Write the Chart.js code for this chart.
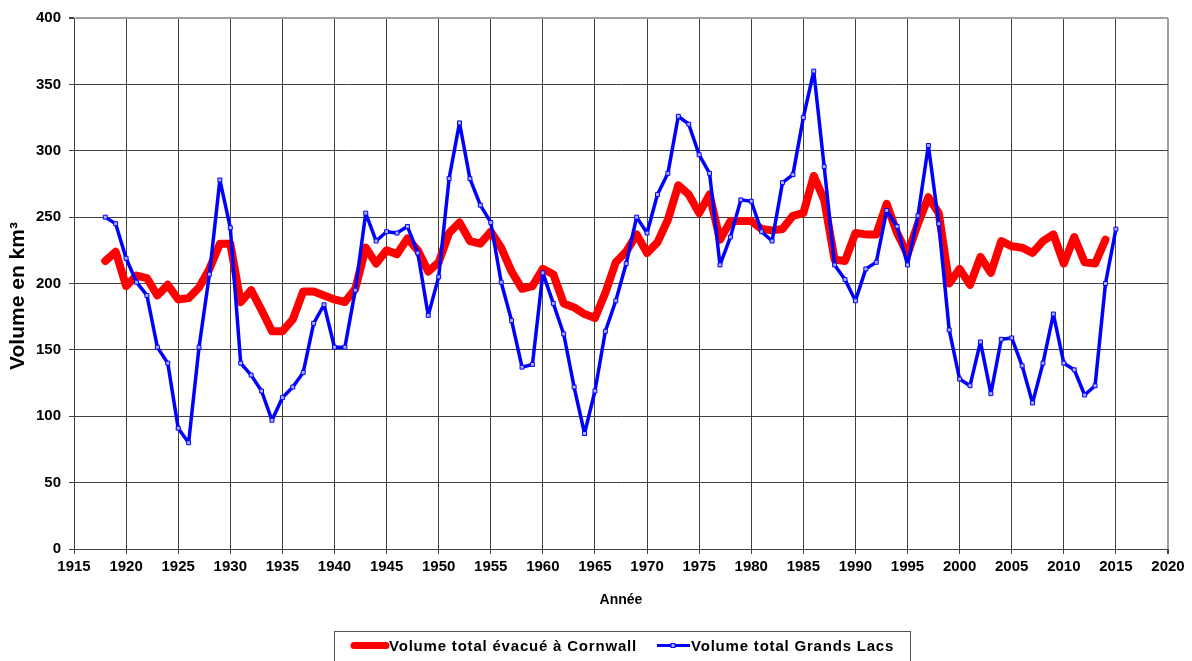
<!DOCTYPE html>
<html>
<head>
<meta charset="utf-8">
<script src="https://cdn.jsdelivr.net/npm/chart.js@4/dist/chart.umd.min.js"></script>
<style>
  html, body { margin: 0; padding: 0; background: #ffffff; }
  #wrap { width: 1192px; height: 661px; }
</style>
</head>
<body>
<div id="wrap"><canvas id="c" width="1192" height="661"></canvas></div>
<script>
// ---- Data ----
const cornwallYears = [1918,1919,1920,1921,1922,1923,1924,1925,1926,1927,1928,1929,1930,1931,1932,1933,1934,1935,1936,1937,1938,1939,1940,1941,1942,1943,1944,1945,1946,1947,1948,1949,1950,1951,1952,1953,1954,1955,1956,1957,1958,1959,1960,1961,1962,1963,1964,1965,1966,1967,1968,1969,1970,1971,1972,1973,1974,1975,1976,1977,1978,1979,1980,1981,1982,1983,1984,1985,1986,1987,1988,1989,1990,1991,1992,1993,1994,1995,1996,1997,1998,1999,2000,2001,2002,2003,2004,2005,2006,2007,2008,2009,2010,2011,2012,2013,2014];
const cornwallValues = [217,224,198,206,204,191,199,188,189,197,211,230,230,186,195,180,164,164,173,194,194,191,188,186,196,227,215,225,222,234,225,209,216,238,246,232,230,239,227,209,196,198,211,207,185,182,177,174,193,216,224,237,223,231,248,274,267,253,267,233,247,247,247,241,240,241,251,253,281,263,218,217,238,237,237,260,238,222,245,265,253,200,211,199,220,208,232,228,227,223,232,237,215,235,216,215,233];

const lacsYears = [1918,1919,1920,1921,1922,1923,1924,1925,1926,1927,1928,1929,1930,1931,1932,1933,1934,1935,1936,1937,1938,1939,1940,1941,1942,1943,1944,1945,1946,1947,1948,1949,1950,1951,1952,1953,1954,1955,1956,1957,1958,1959,1960,1961,1962,1963,1964,1965,1966,1967,1968,1969,1970,1971,1972,1973,1974,1975,1976,1977,1978,1979,1980,1981,1982,1983,1984,1985,1986,1987,1988,1989,1990,1991,1992,1993,1994,1995,1996,1997,1998,1999,2000,2001,2002,2003,2004,2005,2006,2007,2008,2009,2010,2011,2012,2013,2014,2015];
const lacsValues = [250,245,219,201,191,152,140,91,80,152,207,278,242,140,131,119,97,114,122,133,170,184,152,152,195,253,232,239,238,243,223,176,205,279,321,279,259,246,201,172,137,139,208,185,162,122,87,119,164,187,215,250,238,267,283,326,320,297,283,214,235,263,262,239,232,276,282,325,360,288,214,203,187,211,216,255,243,214,251,304,245,165,128,123,156,117,158,159,138,110,140,177,140,135,116,123,200,241];

const xMin = 1915, xMax = 2020, xStep = 5;
const yMin = 0, yMax = 400, yStep = 50;

const seriesNames = ['Volume total évacué à Cornwall', 'Volume total Grands Lacs'];
const yTitle = 'Volume en km³';
const xTitle = 'Année';

// ---- Build datasets ----
const toPoints = (xs, ys) => xs.map((x, i) => ({ x: x, y: ys[i] }));

const FONT = '"Liberation Sans", Arial, sans-serif';

const decorPlugin = {
  id: 'decor',
  afterDraw(chart) {
    const ctx = chart.ctx;
    ctx.save();
    // y axis title (rotated)
    ctx.fillStyle = '#000000';
    ctx.font = 'bold 21px ' + FONT;
    ctx.textAlign = 'center';
    ctx.textBaseline = 'middle';
    ctx.save();
    ctx.translate(18, 296);
    ctx.rotate(-Math.PI / 2);
    ctx.fillText(yTitle, 0, 0);
    ctx.restore();

    // legend box
    ctx.strokeStyle = '#555555';
    ctx.lineWidth = 1;
    ctx.strokeRect(334.5, 631.5, 576, 40);
    const y = 645.5;
    // red item
    ctx.strokeStyle = '#ff0000';
    ctx.lineWidth = 7;
    ctx.lineCap = 'round';
    ctx.beginPath(); ctx.moveTo(354, y); ctx.lineTo(386, y); ctx.stroke();
    // blue item
    ctx.strokeStyle = '#0000ff';
    ctx.lineWidth = 3;
    ctx.lineCap = 'butt';
    ctx.beginPath(); ctx.moveTo(657, y); ctx.lineTo(690, y); ctx.stroke();
    ctx.fillStyle = '#aab0ff';
    ctx.lineWidth = 1;
    ctx.fillRect(671, y - 2, 4, 4);
    ctx.strokeRect(671, y - 2, 4, 4);
    // texts
    ctx.fillStyle = '#000000';
    ctx.font = 'bold 15px ' + FONT;
    ctx.textBaseline = 'middle';
    ctx.textAlign = 'left';
    if ('letterSpacing' in ctx) ctx.letterSpacing = '0.8px';
    ctx.fillText(seriesNames[0], 389, y + 1);
    ctx.fillText(seriesNames[1], 691, y + 1);
    if ('letterSpacing' in ctx) ctx.letterSpacing = '0px';
    ctx.restore();
  }
};

const gridColor = (edgeValue) => (c) => (c.tick && c.tick.value === edgeValue) ? '#a0a0a0' : '#404040';
const gridWidth = (edgeValue) => (c) => (c.tick && c.tick.value === edgeValue) ? 2 : 1;

new Chart(document.getElementById('c'), {
  type: 'line',
  data: {
    datasets: [
      {
        label: seriesNames[0],
        data: toPoints(cornwallYears, cornwallValues),
        borderColor: '#ff0000',
        backgroundColor: '#ff0000',
        borderWidth: 8,
        borderCapStyle: 'round',
        borderJoinStyle: 'round',
        pointRadius: 0,
        pointHoverRadius: 0,
        tension: 0,
        order: 2
      },
      {
        label: seriesNames[1],
        data: toPoints(lacsYears, lacsValues),
        borderColor: '#0000ff',
        backgroundColor: '#0000ff',
        borderWidth: 3.5,
        borderJoinStyle: 'round',
        pointStyle: 'rect',
        pointRadius: 2.8,
        pointBorderWidth: 1,
        pointBackgroundColor: '#aab0ff',
        pointBorderColor: '#0000ff',
        tension: 0,
        order: 1
      }
    ]
  },
  options: {
    responsive: false,
    animation: false,
    devicePixelRatio: 1,
    layout: { padding: { left: 0, top: 18, right: 24, bottom: 48 } },
    plugins: {
      legend: { display: false },
      tooltip: { enabled: false }
    },
    scales: {
      x: {
        type: 'linear',
        min: xMin, max: xMax,
        afterFit(scale) { scale.height = 64; },
        ticks: {
          stepSize: xStep,
          color: '#000',
          padding: 4,
          maxRotation: 0,
          autoSkip: false,
          font: { family: FONT, size: 15, weight: 'bold' },
          callback: (v) => String(v)
        },
        grid: { color: gridColor(xMax), lineWidth: gridWidth(xMax), tickLength: 5, tickColor: '#404040' },
        border: { color: '#404040', width: 1 },
        title: {
          display: true, text: xTitle, color: '#000',
          font: { family: FONT, size: 14, weight: 'bold' },
          padding: { top: 4, bottom: 4 }
        }
      },
      y: {
        min: yMin, max: yMax,
        afterFit(scale) { scale.width = 74; },
        ticks: {
          stepSize: yStep,
          color: '#000',
          padding: 8,
          font: { family: FONT, size: 15, weight: 'bold' }
        },
        grid: { color: gridColor(yMax), lineWidth: gridWidth(yMax), tickLength: 5, tickColor: '#404040' },
        border: { color: '#404040', width: 1 },
        title: { display: false }
      }
    }
  },
  plugins: [decorPlugin]
});
</script>
</body>
</html>
